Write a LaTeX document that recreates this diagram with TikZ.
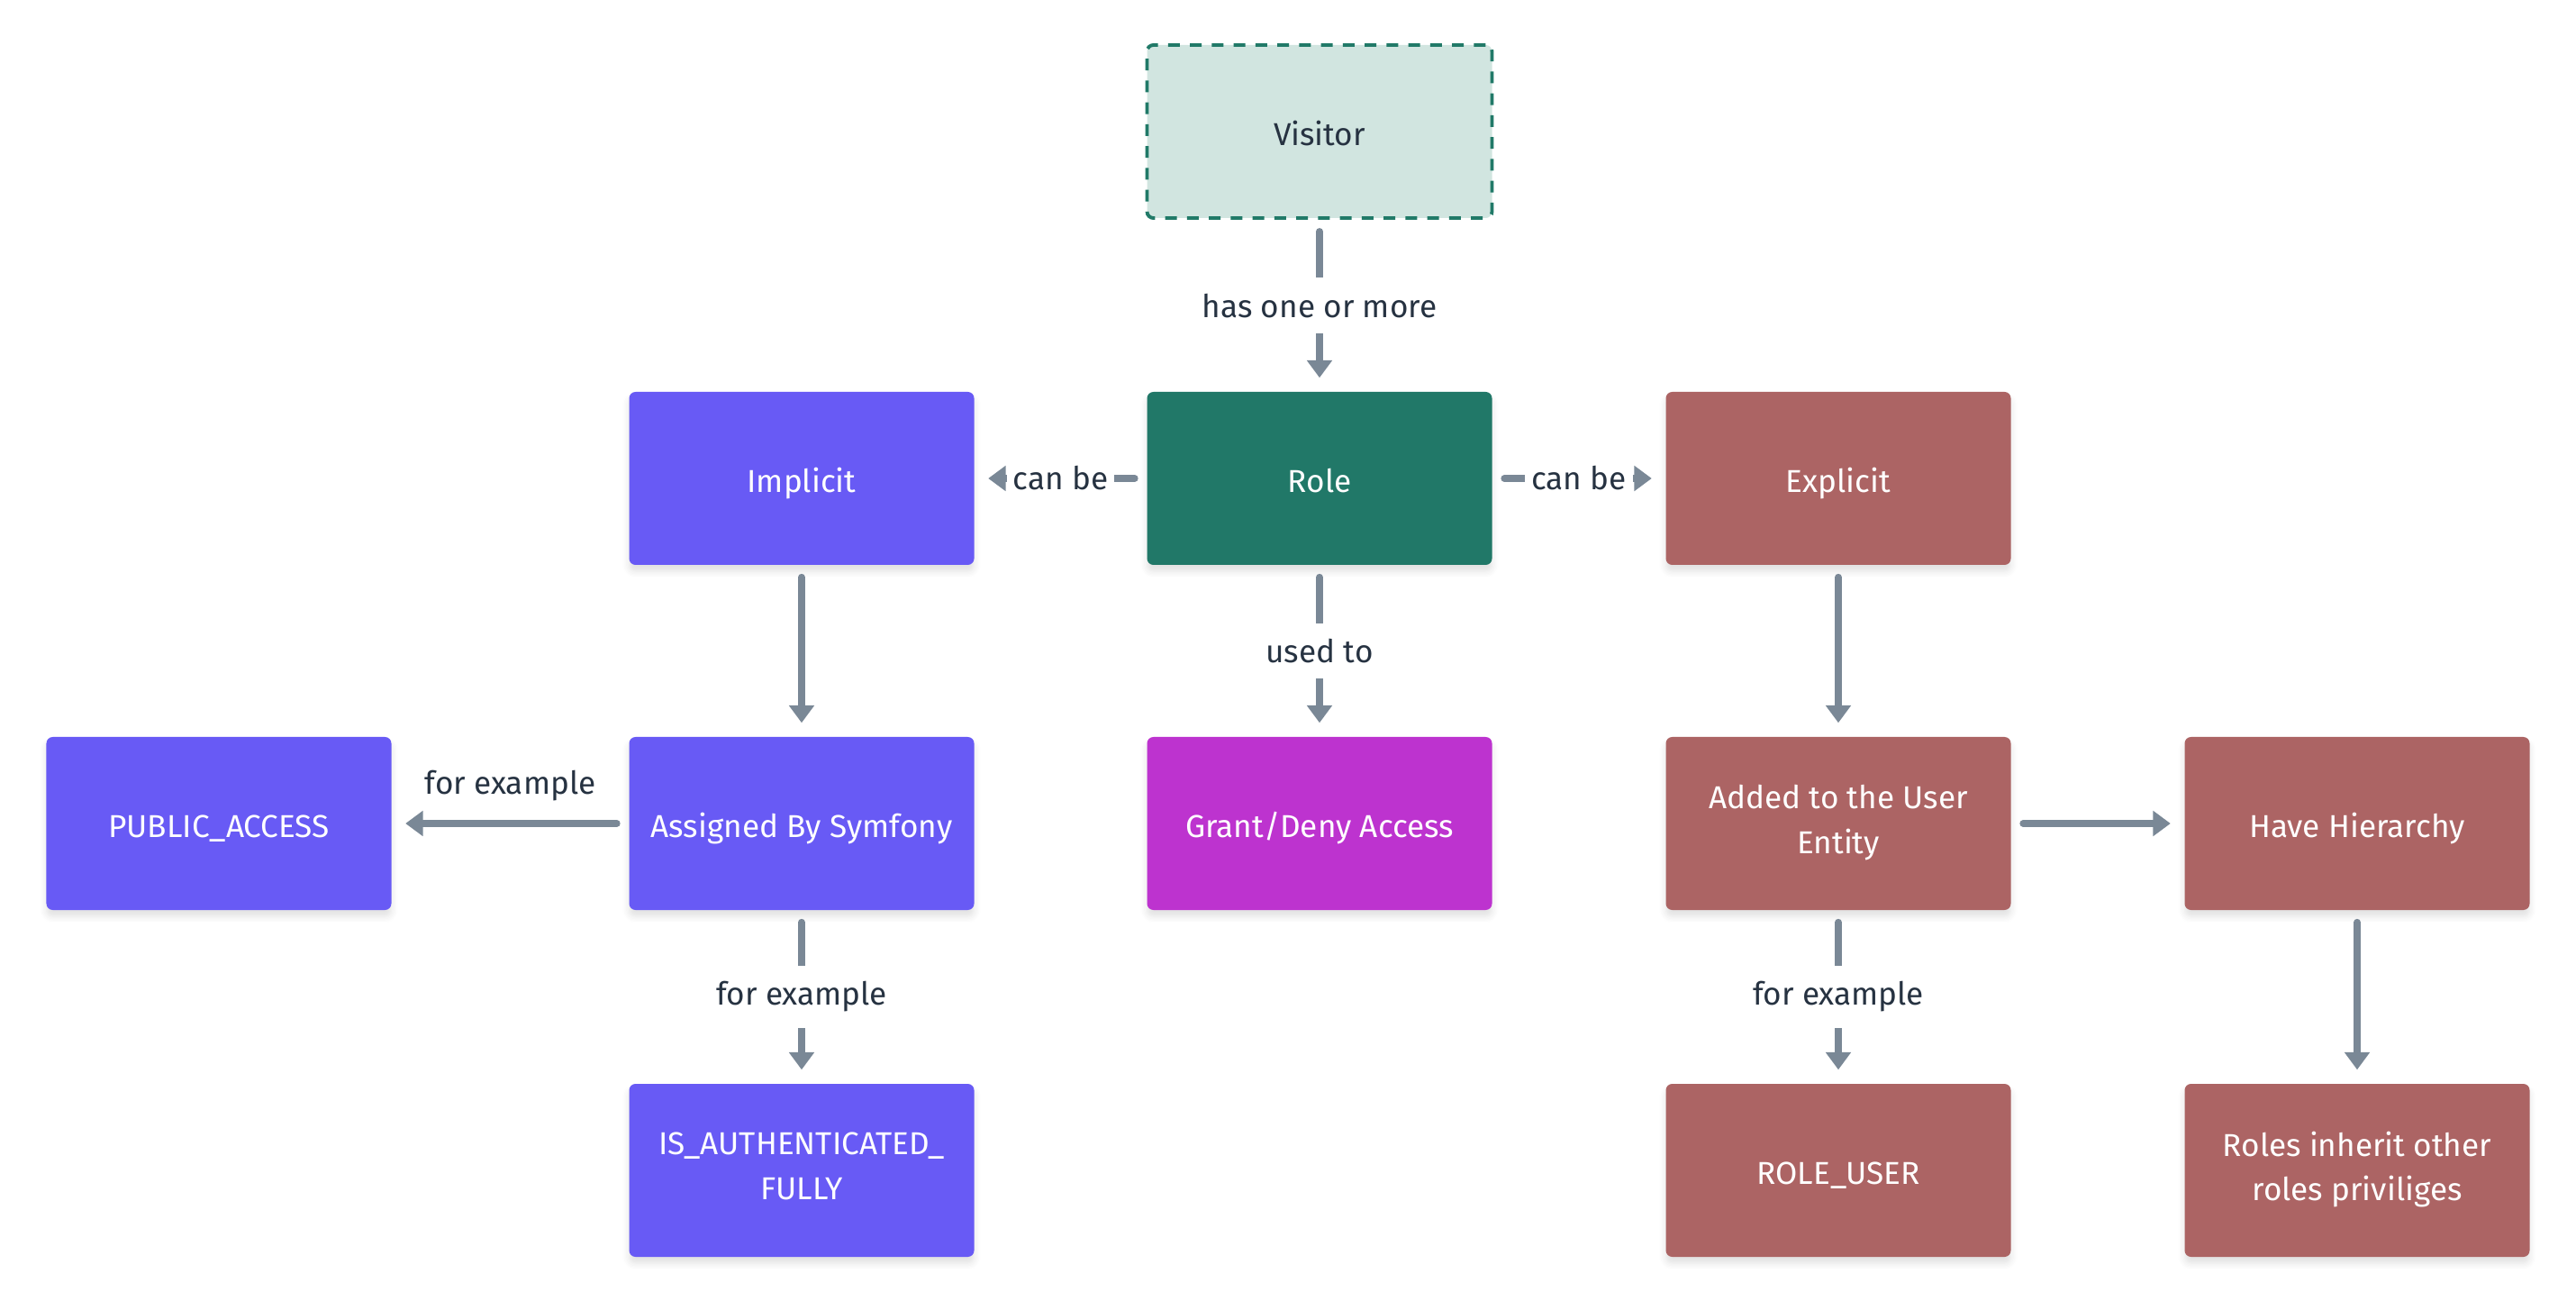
\documentclass[tikz,border=0pt]{standalone}
\usepackage{fontspec}
\setmainfont{Fira Sans}
\usetikzlibrary{arrows.meta,shadows.blur,positioning}

\definecolor{visitorfill}{HTML}{D1E5E0}
\definecolor{visitorline}{HTML}{217A68}
\definecolor{rolegreen}{HTML}{217868}
\definecolor{implicitblue}{HTML}{685AF5}
\definecolor{grantmagenta}{HTML}{BD33CF}
\definecolor{explicitred}{HTML}{AC6464}
\definecolor{linkgray}{HTML}{7A8896}
\definecolor{labeltext}{HTML}{263241}

\newcommand{\boxstrut}{\rule[-2.7pt]{0pt}{14pt}}

\begin{document}
\begin{tikzpicture}[
  box/.style={rectangle, rounded corners=2pt, minimum width=3.83cm, minimum height=1.92cm,
    align=center, text=white, font=\fontsize{10}{14}\selectfont,
    execute at begin node=\boxstrut, execute at end node=\boxstrut,
    blur shadow={shadow xshift=0pt, shadow yshift=-2pt, shadow blur steps=6, shadow opacity=12}},
  visitorbox/.style={box, fill=visitorfill, draw=visitorline, line width=1.1pt,
    dash pattern=on 3.7pt off 3.2pt, text=labeltext, blur shadow={shadow opacity=0}},
  rolebox/.style={box, fill=rolegreen},
  bluebox/.style={box, fill=implicitblue},
  grantbox/.style={box, fill=grantmagenta},
  redbox/.style={box, fill=explicitred},
  link/.style={draw=linkgray, line width=2.2pt, line cap=round,
    -{Triangle[width=7.7pt,length=5.5pt]}, shorten <=0.13cm, shorten >=0.15cm},
  lbl/.style={fill=white, text=labeltext, font=\fontsize{10}{12}\selectfont, inner sep=2pt}
]
\useasboundingbox (0,0) rectangle (28.6,-14.44);

\node[visitorbox] (visitor) at (14.65,-1.46) {Visitor};
\node[rolebox] (role) at (14.65,-5.31) {Role};
\node[bluebox] (implicit) at (8.9,-5.31) {Implicit};
\node[redbox] (explicit) at (20.41,-5.31) {Explicit};
\node[bluebox] (public) at (2.43,-9.14) {PUBLIC\_ACCESS};
\node[bluebox] (assigned) at (8.9,-9.14) {Assigned By Symfony};
\node[grantbox] (grant) at (14.65,-9.14) {Grant/Deny Access};
\node[redbox] (added) at (20.41,-9.14) {Added to the User\\Entity};
\node[redbox] (hierarchy) at (26.17,-9.14) {Have Hierarchy};
\node[bluebox] (isauth) at (8.9,-12.99) {IS\_AUTHENTICATED\_\\FULLY};
\node[redbox] (roleuser) at (20.41,-12.99) {ROLE\_USER};
\node[redbox] (inherit) at (26.17,-12.99) {Roles inherit other\\roles priviliges};

\draw[link] (visitor) -- node[lbl, inner ysep=5pt] {has one or more} (role);
\draw[link] (role) -- node[lbl] {can be} (implicit);
\draw[link] (role) -- node[lbl] {can be} (explicit);
\draw[link] (role) -- node[lbl, inner ysep=5pt] {used to} (grant);
\draw[link] (implicit) -- (assigned);
\draw[link] (assigned) -- node[lbl, fill=none, above=4pt] {for example} (public);
\draw[link] (assigned) -- node[lbl, inner ysep=5pt] {for example} (isauth);
\draw[link] (explicit) -- (added);
\draw[link] (added) -- (hierarchy);
\draw[link] (added) -- node[lbl, inner ysep=5pt] {for example} (roleuser);
\draw[link] (hierarchy) -- (inherit);
\end{tikzpicture}
\end{document}
